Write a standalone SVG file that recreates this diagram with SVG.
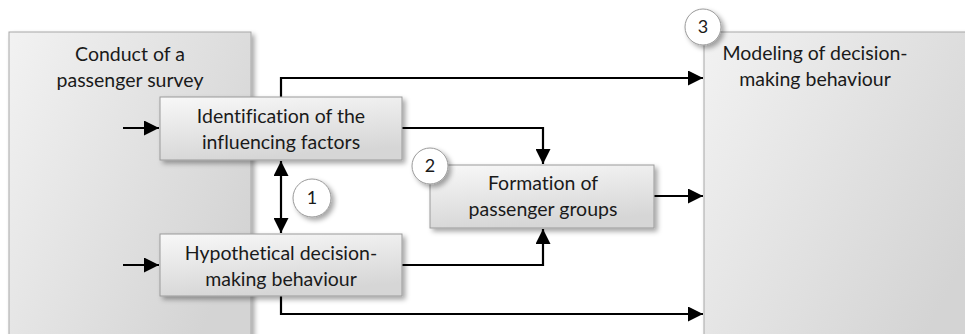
<svg xmlns="http://www.w3.org/2000/svg" width="965" height="334" viewBox="0 0 965 334">
<style>
.t{font-family:Lato,"Liberation Sans",sans-serif;font-size:19.5px;fill:#1a1a1a;text-anchor:middle;font-variant-ligatures:none}
.big{stroke:#a8a8a8;stroke-width:1}
.box{stroke:#9a9a9a;stroke-width:1;fill:url(#gs)}
.c{fill:#fff;stroke:#999;stroke-width:1}
.ct{font-family:Lato,"Liberation Sans",sans-serif;font-size:18px;fill:#1a1a1a;text-anchor:middle}
.ln{fill:none;stroke:#000;stroke-width:2.2}
</style>
<defs>
<linearGradient id="gb" x1="0" y1="0" x2="1" y2="0.6">
<stop offset="0" stop-color="#f2f2f2"/><stop offset="1" stop-color="#d4d4d4"/>
</linearGradient>
<linearGradient id="gs" x1="0" y1="0" x2="0.3" y2="1">
<stop offset="0" stop-color="#f8f8f8"/><stop offset="1" stop-color="#d6d6d6"/>
</linearGradient>
<filter id="sh" x="-10%" y="-10%" width="130%" height="140%">
<feDropShadow dx="3" dy="3" stdDeviation="2.5" flood-color="#000" flood-opacity="0.35"/>
</filter>
<marker id="ah" viewBox="0 0 15 15" refX="15" refY="7.5" markerWidth="15" markerHeight="15" markerUnits="userSpaceOnUse" orient="auto-start-reverse">
<path d="M0,0 L15,7.5 L0,15 Z" fill="#000"/>
</marker>
</defs>
<g id="survey">
<rect x="9" y="32" width="242" height="320" class="big" fill="url(#gb)" filter="url(#sh)"/>
<text class="t" x="130" y="61">Conduct of a</text>
<text class="t" x="130" y="87">passenger survey</text>
</g>
<g id="modeling">
<rect x="704" y="32" width="280" height="320" class="big" fill="url(#gb)" filter="url(#sh)"/>
<text class="t" x="815" y="60">Modeling of decision-</text>
<text class="t" x="815" y="86">making behaviour</text>
</g>
<g id="connectors">
<path class="ln" d="M281,97 V78 H703" marker-end="url(#ah)"/>
<path class="ln" d="M281,296 V314 H703" marker-end="url(#ah)"/>
<path class="ln" d="M123,128 H159" marker-end="url(#ah)"/>
<path class="ln" d="M123,265 H159" marker-end="url(#ah)"/>
<path class="ln" d="M281,161 V233" marker-start="url(#ah)" marker-end="url(#ah)"/>
<path class="ln" d="M402,128 H543 V164" marker-end="url(#ah)"/>
<path class="ln" d="M402,265 H543 V229" marker-end="url(#ah)"/>
<path class="ln" d="M654,196 H703" marker-end="url(#ah)"/>
</g>
<g id="identification">
<rect x="160" y="97" width="242" height="63" class="box" filter="url(#sh)"/>
<text class="t" x="281" y="123">Identification of the</text>
<text class="t" x="281" y="149">influencing factors</text>
</g>
<g id="hypothetical">
<rect x="160" y="234" width="242" height="62" class="box" filter="url(#sh)"/>
<text class="t" x="281" y="260">Hypothetical decision-</text>
<text class="t" x="281" y="286">making behaviour</text>
</g>
<g id="formation">
<rect x="430" y="165" width="224" height="63" class="box" filter="url(#sh)"/>
<text class="t" x="543" y="190">Formation of</text>
<text class="t" x="543" y="216">passenger groups</text>
</g>
<g id="step1">
<circle cx="312" cy="198" r="19" class="c" filter="url(#sh)"/>
<text class="ct" x="312" y="204">1</text>
</g>
<g id="step2">
<circle cx="430" cy="166" r="18" class="c" filter="url(#sh)"/>
<text class="ct" x="430" y="172">2</text>
</g>
<g id="step3">
<circle cx="703" cy="27" r="18" class="c" filter="url(#sh)"/>
<text class="ct" x="703" y="33">3</text>
</g>
</svg>
